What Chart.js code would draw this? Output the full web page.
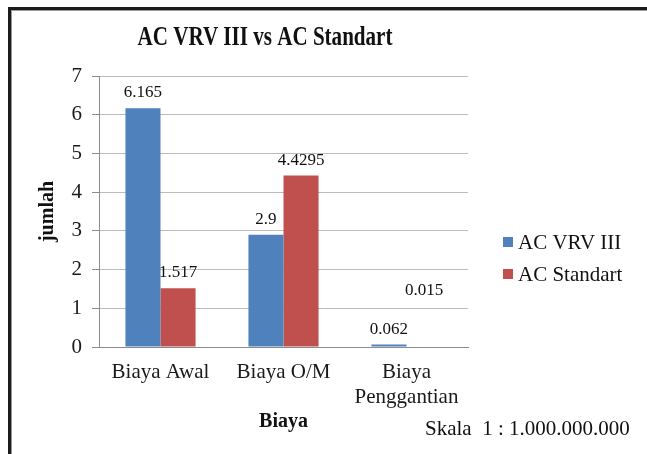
<!DOCTYPE html>
<html>
<head>
<meta charset="utf-8">
<script src="https://cdn.jsdelivr.net/npm/chart.js@4/dist/chart.umd.min.js"></script>
<style>
  html, body { margin: 0; padding: 0; background: #fff; }
  #wrap { width: 647px; height: 454px; }
</style>
</head>
<body>
<div id="wrap"><canvas id="acChart" width="647" height="454"></canvas></div>
<script>
// data
const categories = ['Biaya Awal', 'Biaya O/M', ['Biaya', 'Penggantian']];
const vrvValues = [6.165, 2.9, 0.062];
const standartValues = [1.517, 4.4295, 0.015];
const yTicks = [0, 1, 2, 3, 4, 5, 6, 7];

const serif = '"Liberation Serif", "Times New Roman", serif';

// outer frame, title, legend and the scale note
const decor = {
    id: 'decor',
    beforeDraw(chart) {
        const c = chart.ctx;
        c.save();
        c.fillStyle = '#fff';
        c.fillRect(0, 0, chart.width, chart.height);
        c.fillStyle = '#1c1c1c';
        c.fillRect(8, 7, chart.width, 3);
        c.fillRect(8, 7, 3, chart.height);
        c.fillStyle = '#9a9a9a';
        c.fillRect(11, 10, chart.width, 1);
        c.fillRect(11, 10, 1, chart.height);
        c.restore();
    },
    afterDraw(chart) {
        const c = chart.ctx;
        c.save();
        // title (condensed look of the original)
        c.fillStyle = '#111';
        c.font = 'bold 27px ' + serif;
        c.textAlign = 'center';
        c.textBaseline = 'alphabetic';
        c.translate(265, 45);
        c.scale(0.78, 1);
        c.fillText('AC VRV III vs AC Standart', 0, 0);
        c.restore();

        // legend
        c.save();
        c.font = '21px ' + serif;
        c.textBaseline = 'middle';
        c.textAlign = 'left';
        chart.data.datasets.forEach((ds, i) => {
            const y = 242 + i * 32;
            c.fillStyle = ds.backgroundColor;
            c.fillRect(503, y - 5, 10, 10);
            c.fillStyle = '#111';
            c.fillText(ds.label, 518, y + 1);
        });

        // scale note
        c.font = '21px ' + serif;
        c.textBaseline = 'alphabetic';
        c.fillText('Skala  1 : 1.000.000.000', 425, 435);
        c.restore();
    }
};

// value labels above the bars
const liftExtra = { 1: { 2: 40 } }; // the 0.015 label sits higher in the original
const valueLabels = {
    id: 'valueLabels',
    afterDatasetsDraw(chart) {
        const c = chart.ctx;
        c.save();
        c.font = '17px ' + serif;
        c.fillStyle = '#111';
        c.textAlign = 'center';
        c.textBaseline = 'alphabetic';
        chart.data.datasets.forEach((ds, di) => {
            const meta = chart.getDatasetMeta(di);
            meta.data.forEach((bar, i) => {
                const extra = (liftExtra[di] && liftExtra[di][i]) || 0;
                c.fillText(String(ds.data[i]), bar.x, bar.y - 11 - extra);
            });
        });
        c.restore();
    }
};

const ctx = document.getElementById('acChart').getContext('2d');
const acChart = new Chart(ctx, {
    type: 'bar',
    data: {
        labels: categories,
        datasets: [{
            label: 'AC VRV III',
            data: vrvValues,
            backgroundColor: '#4F81BD',
            borderWidth: 0
        }, {
            label: 'AC Standart',
            data: standartValues,
            backgroundColor: '#C0504D',
            borderWidth: 0
        }]
    },
    options: {
        responsive: false,
        animation: false,
        devicePixelRatio: 1,
        layout: {
            padding: { left: 32, right: 179, top: 76, bottom: 16 }
        },
        datasets: {
            bar: { categoryPercentage: 0.57, barPercentage: 1 }
        },
        plugins: {
            legend: { display: false },
            title: { display: false },
            tooltip: { enabled: false }
        },
        scales: {
            x: {
                grid: { display: false, drawTicks: false },
                border: { display: true, color: '#8c8c8c', width: 1 },
                ticks: {
                    color: '#1a1a1a',
                    font: { family: serif, size: 21 },
                    padding: 13,
                    maxRotation: 0,
                    autoSkip: false
                },
                title: {
                    display: true,
                    text: 'Biaya',
                    color: '#111',
                    font: { family: serif, size: 20, weight: 'bold' }
                },
                afterFit(scale) { scale.height = 91; }
            },
            y: {
                min: 0,
                max: yTicks[yTicks.length - 1],
                afterBuildTicks(scale) {
                    scale.ticks = yTicks.map(v => ({ value: v }));
                },
                grid: { color: '#bcbcbc', tickLength: 7, tickColor: '#8c8c8c' },
                border: { display: true, color: '#8c8c8c', width: 1 },
                ticks: {
                    color: '#1a1a1a',
                    font: { family: serif, size: 21 },
                    padding: 10
                },
                title: {
                    display: true,
                    text: 'jumlah',
                    color: '#111',
                    font: { family: serif, size: 20, weight: 'bold' }
                },
                afterFit(scale) { scale.width = 67; }
            }
        }
    },
    plugins: [decor, valueLabels]
});
</script>
</body>
</html>
